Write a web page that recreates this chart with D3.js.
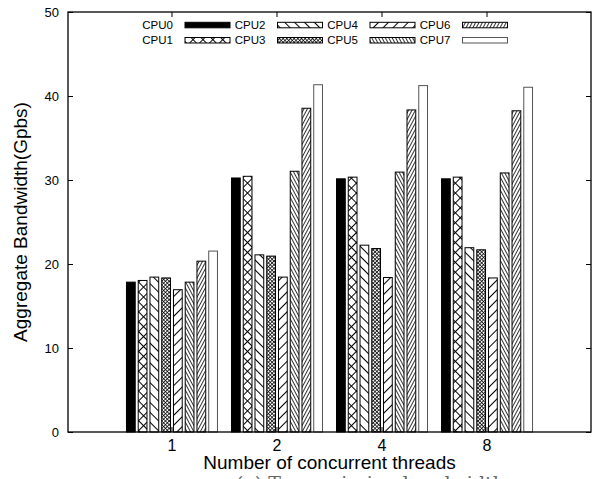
<!DOCTYPE html>
<html>
<head>
<meta charset="utf-8">
<script src="https://cdn.jsdelivr.net/npm/d3@7"></script>
<style>
  body { margin: 0; background: #fff; }
  svg { display: block; }
</style>
</head>
<body>
<div id="container"></div>
<script>
"use strict";

const plotWidth = 596;
const plotHeight = 479;
const margin = { left: 68, right: 5, top: 12, bottom: 47 };

const threads = ["1", "2", "4", "8"];
const cpus = ["CPU0", "CPU1", "CPU2", "CPU3", "CPU4", "CPU5", "CPU6", "CPU7"];
const yTicks = [0, 10, 20, 30, 40, 50];

const cpu0 = [17.9, 30.3, 30.2, 30.2];
const cpu1 = [18.1, 30.5, 30.4, 30.4];
const cpu2 = [18.5, 21.15, 22.3, 22.0];
const cpu3 = [18.4, 21.0, 21.9, 21.75];
const cpu4 = [17.0, 18.5, 18.45, 18.4];
const cpu5 = [17.9, 31.1, 31.0, 30.9];
const cpu6 = [20.4, 38.6, 38.4, 38.3];
const cpu7 = [21.6, 41.4, 41.3, 41.1];

const series = [cpu0, cpu1, cpu2, cpu3, cpu4, cpu5, cpu6, cpu7];
// fill per cpu, gnuplot-like patterns
const fills = ["#000", "url(#bigX)", "url(#bigBack)", "url(#fineX)",
  "url(#bigFwd)", "url(#fineBack)", "url(#fineFwd)", "#fff"];

const svg = d3
  .select("#container")
  .append("svg")
  .attr("width", plotWidth)
  .attr("height", plotHeight);

const defs = svg.append("defs");

// each line set is its own rotated pattern, layered over a white rect
const patternDefs = [
  { id: "bigX", spacing: 7, angles: [45, -45], sw: 1 },
  { id: "fineX", spacing: 2.6, angles: [45, -45], sw: 0.8 },
  { id: "bigBack", spacing: 7, angles: [45], sw: 1 },
  { id: "bigFwd", spacing: 7, angles: [-45], sw: 1 },
  { id: "fineBack", spacing: 3, angles: [62], sw: 0.8 },
  { id: "fineFwd", spacing: 3, angles: [-62], sw: 0.8 },
];

patternDefs.forEach((d) => {
  d.angles.forEach((a, i) => {
    const sub = defs
      .append("pattern")
      .attr("id", d.id + "_" + i)
      .attr("patternUnits", "userSpaceOnUse")
      .attr("width", 20)
      .attr("height", d.spacing)
      .attr("patternTransform", `rotate(${a})`);
    sub.append("line")
      .attr("x1", 0).attr("x2", 20)
      .attr("y1", d.spacing / 2).attr("y2", d.spacing / 2)
      .attr("stroke", "#000")
      .attr("stroke-width", d.sw);
  });
});

const xScale = d3
  .scaleBand()
  .domain(threads)
  .range([margin.left, plotWidth - margin.right])
  .paddingInner(0.124)
  .paddingOuter(0.552);

const cpuScale = d3
  .scaleBand()
  .domain(cpus)
  .range([0, xScale.bandwidth()])
  .paddingInner(0.17);

const yScale = d3
  .scaleLinear()
  .domain([0, 50])
  .range([plotHeight - margin.bottom, margin.top]);

const x0 = margin.left;
const x1 = plotWidth - margin.right;
const y0 = yScale(0);
const y1 = yScale(50);

const drawBox = (g, x, y, w, h, fill, stroke) => {
  if (fill.startsWith("url")) {
    const id = fill.slice(5, -1);
    const def = patternDefs.find((p) => p.id === id);
    g.append("rect").attr("x", x).attr("y", y).attr("width", w).attr("height", h).attr("fill", "#fff");
    def.angles.forEach((a, i) => {
      g.append("rect").attr("x", x).attr("y", y).attr("width", w).attr("height", h)
        .attr("fill", `url(#${id}_${i})`);
    });
    g.append("rect").attr("x", x).attr("y", y).attr("width", w).attr("height", h)
      .attr("fill", "none").attr("stroke", stroke).attr("stroke-width", 1);
  } else {
    g.append("rect").attr("x", x).attr("y", y).attr("width", w).attr("height", h)
      .attr("fill", fill).attr("stroke", stroke).attr("stroke-width", 1);
  }
};

// bars
const bars = svg.append("g").attr("class", "bars");
series.forEach((vals, ci) => {
  vals.forEach((v, ti) => {
    const x = xScale(threads[ti]) + cpuScale(cpus[ci]);
    drawBox(bars, x + 0.5, yScale(v) + 0.5, cpuScale.bandwidth() - 1, y0 - yScale(v) - 0.5,
      fills[ci], ci === 7 ? "#555" : "#000");
  });
});

// frame
svg.append("rect")
  .attr("x", x0).attr("y", y1)
  .attr("width", x1 - x0).attr("height", y0 - y1)
  .attr("fill", "none").attr("stroke", "#000").attr("stroke-width", 1.3);

// y ticks (inward, mirrored on the right)
const yAxisL = d3.axisLeft(yScale).tickValues(yTicks).tickSize(-5).tickPadding(9);
const yAxisR = d3.axisRight(yScale).tickValues(yTicks).tickSize(-5).tickFormat("");
const gl = svg.append("g").attr("transform", `translate(${x0},0)`).call(yAxisL);
svg.append("g").attr("transform", `translate(${x1},0)`).call(yAxisR);

// x ticks at cluster centres, inward top and bottom
const xAxisB = d3.axisBottom(xScale).tickSize(-5).tickPadding(8);
const xAxisT = d3.axisTop(xScale).tickSize(-5).tickFormat("");
const gb = svg.append("g").attr("transform", `translate(0,${y0})`).call(xAxisB);
svg.append("g").attr("transform", `translate(0,${y1})`).call(xAxisT);

svg.selectAll(".domain").remove();
svg.selectAll(".tick line").attr("stroke", "#000").attr("stroke-width", 1);

gl.selectAll("text")
  .style("font-family", "Liberation Sans, Arial, sans-serif")
  .style("font-size", "13px")
  .attr("fill", "#000");

gb.selectAll("text")
  .style("font-family", "Liberation Sans, Arial, sans-serif")
  .style("font-size", "16px")
  .attr("fill", "#000");

// axis titles
svg.append("text")
  .attr("text-anchor", "middle")
  .attr("transform", `translate(27, ${(y0 + y1) / 2}) rotate(-90)`)
  .text("Aggregate Bandwidth(Gpbs)")
  .style("font-family", "Liberation Sans, Arial, sans-serif")
  .style("font-size", "19px");

svg.append("text")
  .attr("text-anchor", "middle")
  .attr("x", (x0 + x1) / 2)
  .attr("y", 469)
  .text("Number of concurrent threads")
  .style("font-family", "Liberation Sans, Arial, sans-serif")
  .style("font-size", "19px");

// caption, mostly below the bottom edge
svg.append("text")
  .attr("x", 236)
  .attr("y", 490)
  .text("(a) Transmission bandwidth")
  .attr("fill", "#666")
  .style("font-family", "DejaVu Serif, Liberation Serif, serif")
  .style("font-size", "19px");

// legend, two rows, column-major
const legend = svg.append("g").attr("class", "legend");
cpus.forEach((c, i) => {
  const col = Math.floor(i / 2);
  const row = i % 2;
  const kx = 185 + col * 92.5;
  const ky = 22.3 + row * 15.2;
  legend.append("text")
    .attr("x", kx - 12)
    .attr("y", ky + 6.8)
    .attr("text-anchor", "end")
    .text(c)
    .style("font-family", "Liberation Sans, Arial, sans-serif")
    .style("font-size", "11.5px");
  drawBox(legend, kx, ky, 45, 5.5, fills[i], i === 7 ? "#555" : "#000");
});
</script>
</body>
</html>
